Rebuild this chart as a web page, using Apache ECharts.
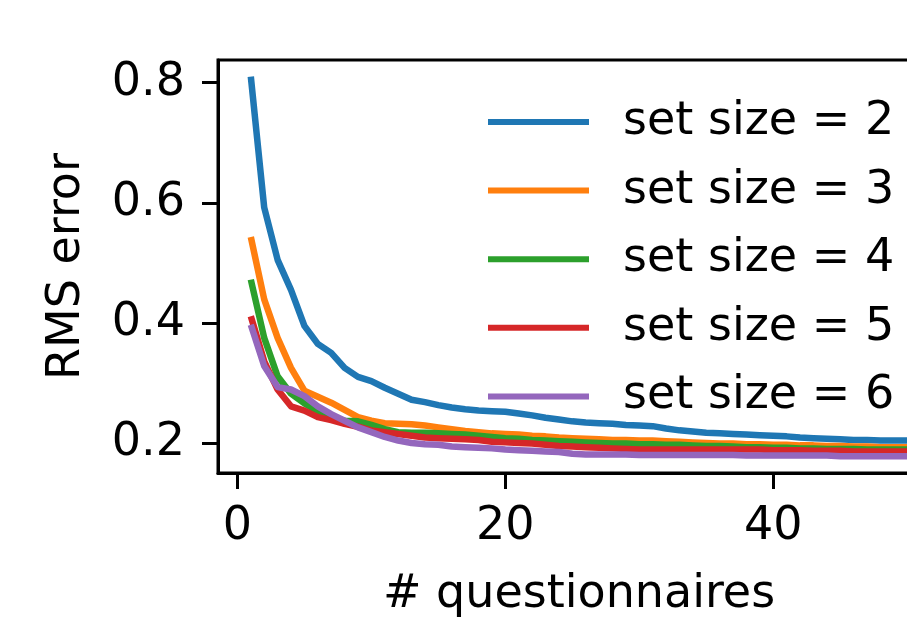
<!DOCTYPE html>
<html>
<head>
<meta charset="utf-8">
<script src="https://cdn.jsdelivr.net/npm/echarts@6/dist/echarts.min.js"></script>
<style>
html,body{margin:0;padding:0;background:#fff;}
#chart{width:907px;height:617px;}
</style>
</head>
<body>
<div id="chart"></div>
<script>
const seriesNames = ['set size = 2', 'set size = 3', 'set size = 4', 'set size = 5', 'set size = 6'];
const questionnaires = Array.from({length: 50}, (_, i) => i + 1);
const setSize2 = [0.810,0.592,0.505,0.455,0.395,0.365,0.350,0.325,0.310,0.303,
  0.292,0.282,0.272,0.268,0.263,0.259,0.256,0.254,0.253,0.252,
  0.249,0.246,0.242,0.239,0.236,0.234,0.233,0.232,0.230,0.229,
  0.228,0.224,0.221,0.219,0.217,0.216,0.215,0.214,0.213,0.212,
  0.211,0.209,0.208,0.207,0.206,0.205,0.205,0.204,0.204,0.204];
const setSize3 = [0.543,0.439,0.375,0.325,0.287,0.277,0.267,0.255,0.243,0.237,
  0.233,0.232,0.231,0.229,0.226,0.223,0.220,0.218,0.216,0.215,
  0.214,0.212,0.211,0.209,0.208,0.207,0.206,0.205,0.205,0.204,
  0.204,0.203,0.202,0.201,0.200,0.199,0.199,0.198,0.198,0.197,
  0.197,0.196,0.196,0.195,0.195,0.194,0.194,0.193,0.193,0.193];
const setSize4 = [0.472,0.375,0.311,0.282,0.266,0.253,0.243,0.237,0.236,0.230,
  0.223,0.218,0.217,0.217,0.216,0.215,0.214,0.212,0.210,0.208,
  0.207,0.205,0.204,0.203,0.202,0.201,0.200,0.199,0.199,0.198,
  0.198,0.197,0.197,0.196,0.195,0.195,0.194,0.193,0.193,0.192,
  0.192,0.191,0.191,0.190,0.190,0.190,0.189,0.189,0.189,0.189];
const setSize5 = [0.411,0.336,0.289,0.261,0.254,0.243,0.238,0.232,0.227,0.221,
  0.218,0.215,0.212,0.209,0.208,0.207,0.206,0.205,0.202,0.201,
  0.200,0.199,0.197,0.195,0.194,0.193,0.192,0.191,0.190,0.189,
  0.189,0.189,0.189,0.189,0.189,0.189,0.189,0.189,0.189,0.188,
  0.188,0.188,0.187,0.187,0.187,0.186,0.186,0.186,0.186,0.186];
const setSize6 = [0.397,0.328,0.293,0.289,0.278,0.261,0.248,0.237,0.226,0.218,
  0.210,0.204,0.200,0.198,0.197,0.194,0.193,0.192,0.191,0.189,
  0.188,0.187,0.186,0.185,0.182,0.181,0.181,0.181,0.181,0.180,
  0.180,0.180,0.180,0.180,0.180,0.180,0.180,0.179,0.179,0.179,
  0.179,0.179,0.179,0.179,0.178,0.178,0.178,0.178,0.178,0.178];
const xTickValues = [0, 20, 40];
const yTickValues = [0.2, 0.4, 0.6, 0.8];
const colors = ['#1f77b4', '#ff7f0e', '#2ca02c', '#d62728', '#9467bd'];
const allSeries = [setSize2, setSize3, setSize4, setSize5, setSize6];

const FONT = 'DejaVu Sans';
const FS = 46;

const chart = echarts.init(document.getElementById('chart'), null, {renderer: 'canvas'});
chart.setOption({
  animation: false,
  backgroundColor: '#fff',
  grid: {
    left: 218, top: 60, width: 722, height: 413,
    show: true, borderColor: '#000', borderWidth: 3, backgroundColor: 'transparent',
    containLabel: false,
    outerBoundsMode: 'none'
  },
  legend: {
    show: true,
    orient: 'vertical',
    left: 488, top: 99,
    padding: 0,
    itemWidth: 101, itemHeight: 6,
    itemGap: 22.6,
    icon: 'rect',
    selectedMode: false,
    textStyle: {fontFamily: FONT, fontSize: FS, color: '#000', lineHeight: 46, padding: [0, 0, 0, 29]},
    data: seriesNames
  },
  xAxis: {
    type: 'value',
    min: -1.45, max: 52.45,
    name: '# questionnaires',
    nameLocation: 'middle',
    nameGap: 99,
    nameTextStyle: {fontFamily: FONT, fontSize: FS, color: '#000'},
    axisLine: {show: true, onZero: false, lineStyle: {color: '#000', width: 3}},
    axisTick: {show: true, length: 16, lineStyle: {color: '#000', width: 3}, customValues: xTickValues},
    axisLabel: {fontFamily: FONT, fontSize: FS, color: '#000', margin: 31, customValues: xTickValues},
    splitLine: {show: false}
  },
  yAxis: {
    type: 'value',
    min: 0.150, max: 0.8377,
    name: 'RMS error',
    nameLocation: 'middle',
    nameGap: 128,
    nameTextStyle: {fontFamily: FONT, fontSize: FS, color: '#000'},
    axisLine: {show: true, onZero: false, lineStyle: {color: '#000', width: 3}},
    axisTick: {show: true, length: 16, lineStyle: {color: '#000', width: 3}, customValues: yTickValues},
    axisLabel: {fontFamily: FONT, fontSize: FS, color: '#000', margin: 33, customValues: yTickValues,
      formatter: v => v.toFixed(1)},
    splitLine: {show: false}
  },
  series: allSeries.map((vals, k) => ({
    name: seriesNames[k],
    type: 'line',
    data: questionnaires.map((q, i) => [q, vals[i]]),
    showSymbol: false,
    symbol: 'none',
    color: colors[k],
    lineStyle: {color: colors[k], width: 6.5, cap: 'butt', join: 'round'},
    itemStyle: {color: colors[k]},
    z: 2 + k
  }))
});
</script>
</body>
</html>
